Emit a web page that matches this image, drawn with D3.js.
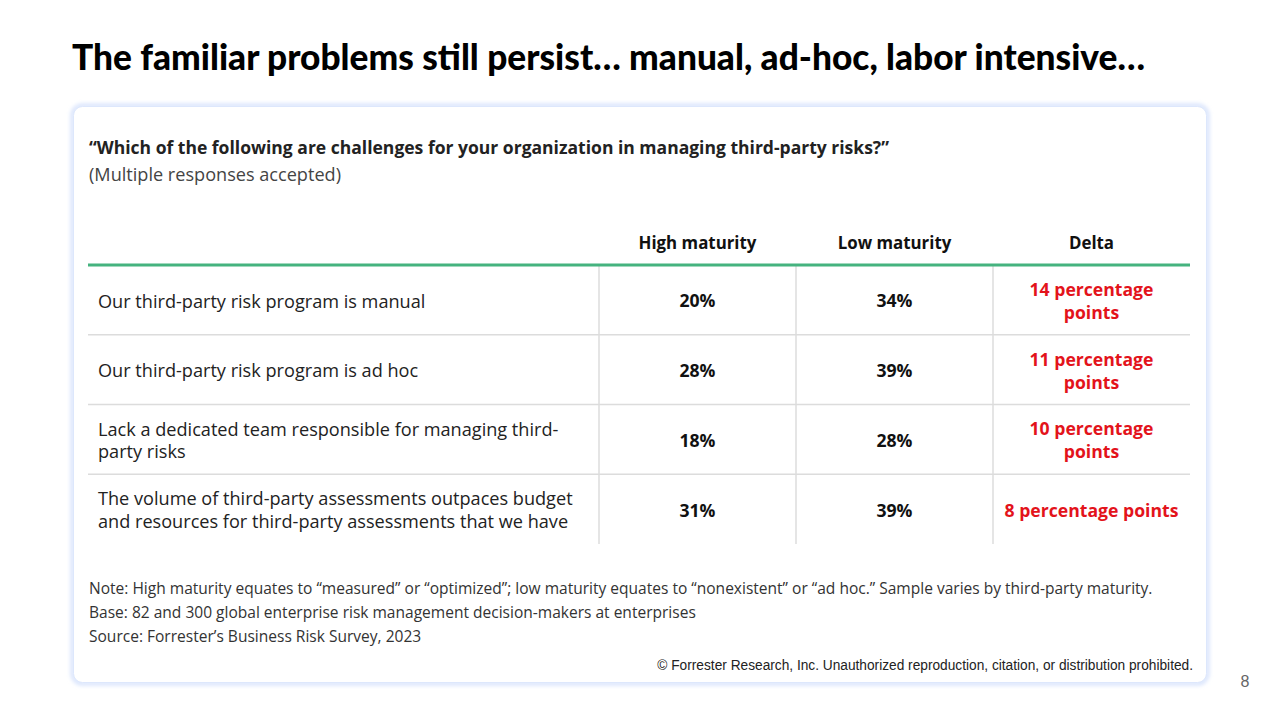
<!DOCTYPE html>
<html>
<head>
<meta charset="utf-8">
<script src="https://cdn.jsdelivr.net/npm/d3@7"></script>
<style>
  html, body { margin: 0; padding: 0; background: #ffffff; }
  svg { display: block; }
</style>
</head>
<body>
<svg id="chart" width="1280" height="720"></svg>
<script>
// ---- data ----
const title = "The familiar problems still persist\u2026 manual, ad-hoc, labor intensive\u2026";
const question = "\u201CWhich of the following are challenges for your organization in managing third-party risks?\u201D";
const subQuestion = "(Multiple responses accepted)";
const columns = ["High maturity", "Low maturity", "Delta"];
const categories = [
  ["Our third-party risk program is manual"],
  ["Our third-party risk program is ad hoc"],
  ["Lack a dedicated team responsible for managing third-", "party risks"],
  ["The volume of third-party assessments outpaces budget", "and resources for third-party assessments that we have"]
];
const highMaturity = [20, 28, 18, 31];
const lowMaturity = [34, 39, 28, 39];
const deltaLabels = [
  ["14 percentage", "points"],
  ["11 percentage", "points"],
  ["10 percentage", "points"],
  ["8 percentage points"]
];
const notes = [
  "Note: High maturity equates to \u201Cmeasured\u201D or \u201Coptimized\u201D; low maturity equates to \u201Cnonexistent\u201D or \u201Cad hoc.\u201D Sample varies by third-party maturity.",
  "Base: 82 and 300 global enterprise risk management decision-makers at enterprises",
  "Source: Forrester\u2019s Business Risk Survey, 2023"
];
const copyright = "\u00A9 Forrester Research, Inc. Unauthorized reproduction, citation, or distribution prohibited.";
const pageNumber = "8";

// ---- layout ----
const svg = d3.select("#chart");
const TFONT = "Lato, sans-serif";
const FONT = "'Open Sans', sans-serif";
const AFONT = "'Liberation Sans', Arial, sans-serif";

// size a font so that a given string spans a target width
function fitSize(str, family, weight, target) {
  const tmp = svg.append("text").attr("font-family", family).attr("font-weight", weight)
    .attr("font-size", 20).text(str);
  const w = tmp.node().getComputedTextLength();
  tmp.remove();
  return +(20 * target / w).toFixed(2);
}

const defs = svg.append("defs");
const f = defs.append("filter").attr("id", "glow").attr("x", "-5%").attr("y", "-5%").attr("width", "110%").attr("height", "110%");
f.append("feGaussianBlur").attr("stdDeviation", 2.2);

// Title
svg.append("text")
  .attr("x", 72).attr("y", 70)
  .attr("font-family", TFONT).attr("font-weight", 900)
  .attr("font-size", fitSize(title, TFONT, 900, 1073))
  .attr("fill", "#000").text(title);

// Card
svg.append("rect")
  .attr("x", 72.5).attr("y", 105.5).attr("width", 1135).attr("height", 578)
  .attr("rx", 10).attr("fill", "none").attr("stroke", "#c9d9fb").attr("stroke-width", 3)
  .attr("filter", "url(#glow)");
svg.append("rect")
  .attr("x", 73.5).attr("y", 106.5).attr("width", 1133).attr("height", 576)
  .attr("rx", 9).attr("fill", "#fff").attr("stroke", "#dde7fc").attr("stroke-width", 1);

// Question
svg.append("text").attr("x", 89).attr("y", 154)
  .attr("font-family", FONT).attr("font-weight", 700)
  .attr("font-size", fitSize(question, FONT, 700, 800))
  .attr("fill", "#222").text(question);
svg.append("text").attr("x", 89).attr("y", 181)
  .attr("font-family", FONT).attr("font-weight", 400)
  .attr("font-size", fitSize(subQuestion, FONT, 400, 252))
  .attr("fill", "#444").text(subQuestion);

// Table scales
const tableLeft = 88, tableRight = 1190, labelColRight = 599;
const headerLine = 265, tableBottom = 544;
const x = d3.scaleBand().domain(columns).range([labelColRight, tableRight]);
const y = d3.scaleBand().domain(d3.range(categories.length)).range([headerLine, tableBottom]);

const headSize = fitSize(columns[0], FONT, 700, 118);
const labelSize = fitSize(categories[3][0], FONT, 400, 475);
const valSize = fitSize("20%", FONT, 700, 36);
const deltaSize = fitSize(deltaLabels[3][0], FONT, 700, 174);

// Header labels
svg.append("g").selectAll("text").data(columns).join("text")
  .attr("x", d => x(d) + x.bandwidth() / 2).attr("y", 249)
  .attr("text-anchor", "middle")
  .attr("font-family", FONT).attr("font-weight", 700).attr("font-size", headSize)
  .attr("fill", "#111").text(d => d);

// Grid
svg.append("g").selectAll("line").data(d3.range(1, categories.length)).join("line")
  .attr("x1", tableLeft).attr("x2", tableRight)
  .attr("y1", d => y(d)).attr("y2", d => y(d))
  .attr("stroke", "#dcdcdc").attr("stroke-width", 1.5);
svg.append("g").selectAll("line").data(columns).join("line")
  .attr("x1", d => x(d)).attr("x2", d => x(d))
  .attr("y1", headerLine).attr("y2", tableBottom)
  .attr("stroke", "#dcdcdc").attr("stroke-width", 1.5);
svg.append("line")
  .attr("x1", tableLeft).attr("x2", tableRight)
  .attr("y1", headerLine).attr("y2", headerLine)
  .attr("stroke", "#45b37f").attr("stroke-width", 3);

// Rows
const lineH = 23;
function multiLine(g, lines, xPos, anchor, attrs) {
  const txt = g.append("text").attr("text-anchor", anchor);
  Object.entries(attrs).forEach(([k, v]) => txt.attr(k, v));
  const n = lines.length;
  lines.forEach((l, i) => {
    txt.append("tspan").attr("x", xPos)
      .attr("y", (i - (n - 1) / 2) * lineH)
      .attr("dy", "0.42em").text(l);
  });
  return txt;
}
const rows = svg.append("g").selectAll("g").data(categories).join("g")
  .attr("transform", (d, i) => `translate(0,${y(i) + y.bandwidth() / 2})`);
rows.each(function(d, i) {
  const g = d3.select(this);
  multiLine(g, d, 98, "start", {"font-family": FONT, "font-size": labelSize, "fill": "#222"});
  [highMaturity, lowMaturity].forEach((arr, c) => {
    g.append("text").attr("x", x(columns[c]) + x.bandwidth() / 2).attr("dy", "0.42em")
      .attr("text-anchor", "middle").attr("font-family", FONT).attr("font-weight", 700)
      .attr("font-size", valSize).attr("fill", "#111").text(arr[i] + "%");
  });
  multiLine(g, deltaLabels[i], x(columns[2]) + x.bandwidth() / 2, "middle",
    {"font-family": FONT, "font-weight": 700, "font-size": deltaSize, "fill": "#e3131b"});
});

// Notes
const noteSize = fitSize(notes[0], FONT, 400, 1064);
svg.append("g").selectAll("text").data(notes).join("text")
  .attr("x", 89).attr("y", (d, i) => 594 + i * 24)
  .attr("font-family", FONT).attr("font-size", noteSize).attr("fill", "#333")
  .text(d => d);

// Copyright
svg.append("text").attr("x", 1193).attr("y", 670).attr("text-anchor", "end")
  .attr("font-family", AFONT).attr("font-size", fitSize(copyright, AFONT, 400, 536))
  .attr("fill", "#222").text(copyright);

// Page number
svg.append("text").attr("x", 1245).attr("y", 687).attr("text-anchor", "middle")
  .attr("font-family", AFONT).attr("font-size", 16)
  .attr("fill", "#666").text(pageNumber);
</script>
</body>
</html>
